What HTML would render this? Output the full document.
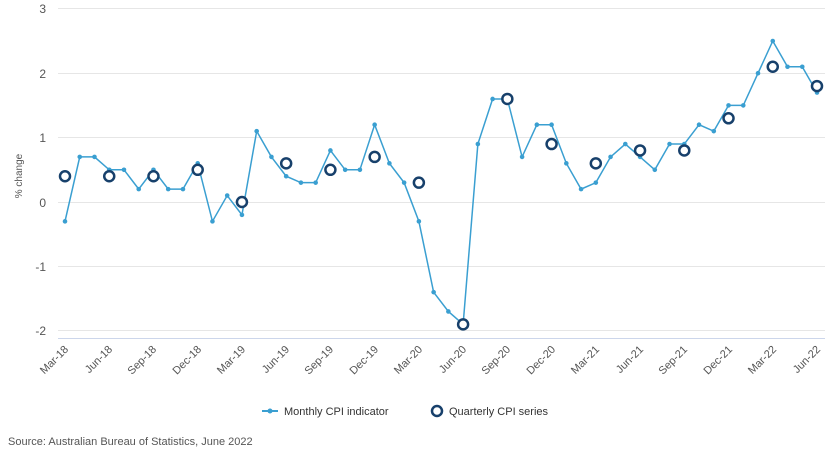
<!DOCTYPE html>
<html><head><meta charset="utf-8"><style>
body{margin:0;background:#fff;width:832px;height:462px;overflow:hidden;font-family:"Liberation Sans",sans-serif}
svg text{font-family:"Liberation Sans",sans-serif;fill:#555}
</style></head><body>
<svg id="s" width="832" height="462" xmlns="http://www.w3.org/2000/svg">
<g stroke="#e6e6e6" stroke-width="1">
<line x1="58" x2="825" y1="8.5" y2="8.5"/><line x1="58" x2="825" y1="73.5" y2="73.5"/>
<line x1="58" x2="825" y1="137.5" y2="137.5"/><line x1="58" x2="825" y1="202.5" y2="202.5"/>
<line x1="58" x2="825" y1="266.5" y2="266.5"/><line x1="58" x2="825" y1="330.5" y2="330.5"/>
</g>
<line x1="58" x2="825" y1="338.5" y2="338.5" stroke="#ccd6eb"/>
<g font-size="12" text-anchor="end">
<text x="46" y="13">3</text><text x="46" y="78">2</text><text x="46" y="142">1</text>
<text x="46" y="207">0</text><text x="46" y="271">-1</text><text x="46" y="335">-2</text>
</g>
<text transform="translate(22,176) rotate(-90)" font-size="10" text-anchor="middle">% change</text>
<g font-size="11" text-anchor="end">
<text transform="translate(69,350) rotate(-45)">Mar-18</text>
<text transform="translate(113,350) rotate(-45)">Jun-18</text>
<text transform="translate(157,350) rotate(-45)">Sep-18</text>
<text transform="translate(202,350) rotate(-45)">Dec-18</text>
<text transform="translate(246,350) rotate(-45)">Mar-19</text>
<text transform="translate(290,350) rotate(-45)">Jun-19</text>
<text transform="translate(334,350) rotate(-45)">Sep-19</text>
<text transform="translate(379,350) rotate(-45)">Dec-19</text>
<text transform="translate(423,350) rotate(-45)">Mar-20</text>
<text transform="translate(467,350) rotate(-45)">Jun-20</text>
<text transform="translate(511,350) rotate(-45)">Sep-20</text>
<text transform="translate(556,350) rotate(-45)">Dec-20</text>
<text transform="translate(600,350) rotate(-45)">Mar-21</text>
<text transform="translate(644,350) rotate(-45)">Jun-21</text>
<text transform="translate(688,350) rotate(-45)">Sep-21</text>
<text transform="translate(733,350) rotate(-45)">Dec-21</text>
<text transform="translate(777,350) rotate(-45)">Mar-22</text>
<text transform="translate(821,350) rotate(-45)">Jun-22</text>
</g>
<g id="series"></g>
<line x1="262" x2="278" y1="411" y2="411" stroke="#3a9fd1" stroke-width="2"/>
<circle cx="270" cy="411" r="2.5" fill="#3a9fd1"/>
<text x="284" y="415" font-size="11" fill="#333" style="fill:#333">Monthly CPI indicator</text>
<circle cx="437" cy="411" r="5" fill="#fff" stroke="#17406b" stroke-width="2.5"/>
<text x="449" y="415" font-size="11" style="fill:#333">Quarterly CPI series</text>
<text x="8" y="445" font-size="11" style="fill:#555">Source: Australian Bureau of Statistics, June 2022</text>
</svg>
<script>
var m=[-0.3,0.7,0.7,0.5,0.5,0.2,0.5,0.2,0.2,0.6,-0.3,0.1,-0.2,1.1,0.7,0.4,0.3,0.3,0.8,0.5,0.5,1.2,0.6,0.3,-0.3,-1.4,-1.7,-1.9,0.9,1.6,1.6,0.7,1.2,1.2,0.6,0.2,0.3,0.7,0.9,0.7,0.5,0.9,0.9,1.2,1.1,1.5,1.5,2.0,2.5,2.1,2.1,1.7];
var q=[0.4,0.4,0.4,0.5,0,0.6,0.5,0.7,0.3,-1.9,1.6,0.9,0.6,0.8,0.8,1.3,2.1,1.8];
function X(i){return 65+i*14.745}function Y(v){return 202-v*64.4}
var g=document.getElementById('series'),ns='http://www.w3.org/2000/svg',s='';
var pts=m.map(function(v,i){return X(i)+','+Y(v)}).join(' ');
s+='<polyline points="'+pts+'" fill="none" stroke="#3a9fd1" stroke-width="1.5"/>';
m.forEach(function(v,i){s+='<circle cx="'+X(i)+'" cy="'+Y(v)+'" r="2.3" fill="#3a9fd1"/>'});
q.forEach(function(v,i){s+='<circle cx="'+X(i*3)+'" cy="'+Y(v)+'" r="5" fill="#fff" stroke="#17406b" stroke-width="2.5"/>'});
g.innerHTML=s;
</script>
</body></html>
